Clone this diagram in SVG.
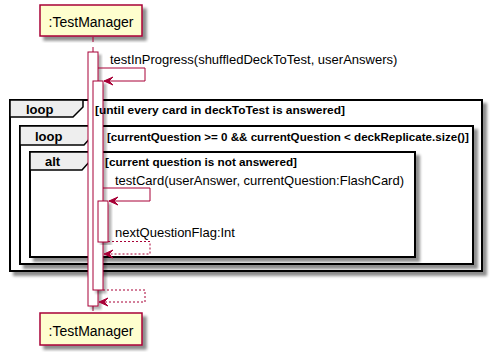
<svg xmlns="http://www.w3.org/2000/svg" width="495" height="359" viewBox="0 0 495 359">
  <style>
    .participant rect { fill: #FEFECE; stroke: #A80036; stroke-width: 1.5; }
    .participant text { font-family: "Liberation Sans", Arial, sans-serif; font-size: 14px; fill: #000; text-anchor: middle; }
    .frame { fill: #FFFFFF; stroke: #000; stroke-width: 2; }
    .tab { fill: #EEEEEE; stroke: #000; stroke-width: 1.5; }
    .kw { font-family: "Liberation Sans", Arial, sans-serif; font-size: 13px; font-weight: bold; fill: #000; }
    .guard { font-family: "Liberation Sans", Arial, sans-serif; font-size: 11.6px; font-weight: bold; fill: #000; }
    .msg { font-family: "Liberation Sans", Arial, sans-serif; font-size: 13px; fill: #000; }
    .lifeline { stroke: #A80036; stroke-width: 1; stroke-dasharray: 5 5; fill: none; }
    .act { fill: #FFFFFF; stroke: #A80036; stroke-width: 1; }
    .call { stroke: #A80036; stroke-width: 1; fill: none; }
    .reply { stroke: #A80036; stroke-width: 1; fill: none; stroke-dasharray: 2 2; }
    .head { fill: #A80036; stroke: #A80036; stroke-width: 1; }
  </style>
  <defs>
    <filter id="shadow" x="-10%" y="-10%" width="130%" height="130%">
      <feGaussianBlur in="SourceAlpha" stdDeviation="1.5"/>
      <feOffset dx="4" dy="4"/>
      <feComponentTransfer><feFuncA type="linear" slope="0.45"/></feComponentTransfer>
      <feMerge><feMergeNode/><feMergeNode in="SourceGraphic"/></feMerge>
    </filter>
    <filter id="barShadow" x="-50%" y="-5%" width="200%" height="110%">
      <feGaussianBlur in="SourceAlpha" stdDeviation="1"/>
      <feOffset dx="3" dy="3"/>
      <feComponentTransfer><feFuncA type="linear" slope="0.3"/></feComponentTransfer>
      <feMerge><feMergeNode/><feMergeNode in="SourceGraphic"/></feMerge>
    </filter>
  </defs>

  <!-- combined fragments -->
  <g id="loop-outer">
    <rect class="frame" x="10" y="100" width="472" height="171" filter="url(#shadow)"/>
    <path class="tab" d="M10,100 H83 V107 L73,117 H10 Z"/>
    <text class="kw" x="26" y="114">loop</text>
  </g>
  <g id="loop-inner">
    <rect class="frame" x="20" y="126" width="453" height="138" filter="url(#shadow)"/>
    <path class="tab" d="M20,126 H93 V135 L84,145 H20 Z"/>
    <text class="kw" x="35" y="141">loop</text>
    <text class="guard" x="107" y="141">[currentQuestion &gt;= 0 &amp;&amp; currentQuestion &lt; deckReplicate.size()]</text>
  </g>
  <g id="alt">
    <rect class="frame" x="30" y="152" width="385" height="105" filter="url(#shadow)"/>
    <path class="tab" d="M30,152 H91 V160 L82,170 H30 Z"/>
    <text class="kw" x="45" y="166">alt</text>
    <text class="guard" x="105" y="166" textLength="192" lengthAdjust="spacingAndGlyphs">[current question is not answered]</text>
  </g>

  <!-- participants -->
  <g id="testmanager-top" class="participant">
    <rect x="40" y="5" width="102" height="31" filter="url(#shadow)"/>
    <text x="91" y="26.5">:TestManager</text>
  </g>
  <g id="testmanager-bottom" class="participant">
    <rect x="40" y="313" width="102" height="32" filter="url(#shadow)"/>
    <text x="91" y="336">:TestManager</text>
  </g>

  <!-- lifeline and activations -->
  <g id="lifeline">
    <line class="lifeline" x1="93" y1="37" x2="93" y2="52"/>
    <line class="lifeline" x1="93" y1="306" x2="93" y2="313"/>
    <rect class="act" x="88" y="52" width="10" height="254" filter="url(#barShadow)"/>
    <rect class="act" x="93" y="81" width="10" height="209" filter="url(#barShadow)"/>
    <rect class="act" x="98" y="201" width="10" height="41" filter="url(#barShadow)"/>
  </g>

  <!-- outer loop guard, printed across the lifeline -->
  <g id="loop-outer-guard">
    <text class="guard" x="95" y="114" textLength="250" lengthAdjust="spacingAndGlyphs">[until every card in deckToTest is answered]</text>
  </g>

  <!-- messages -->
  <g id="connectors">
    <text class="msg" x="110" y="64">testInProgress(shuffledDeckToTest, userAnswers)</text>
    <polyline class="call" points="98,68 145,68 145,81 104,81"/>
    <polygon class="head" points="104,81 113,77 109,81 113,85"/>

    <text class="msg" x="115" y="184.5">testCard(userAnswer, currentQuestion:FlashCard)</text>
    <polyline class="call" points="103,188 150,188 150,201 109,201"/>
    <polygon class="head" points="109,201 118,197 114,201 118,205"/>

    <text class="msg" x="115" y="236.5">nextQuestionFlag:Int</text>
    <polyline class="reply" points="108,241.5 150,241.5 150,254 104,254"/>
    <polygon class="head" points="104,254 113,250 109,254 113,258"/>

    <polyline class="reply" points="103,290 145,290 145,302 99,302"/>
    <polygon class="head" points="99,302 108,298 104,302 108,306"/>
  </g>
</svg>
